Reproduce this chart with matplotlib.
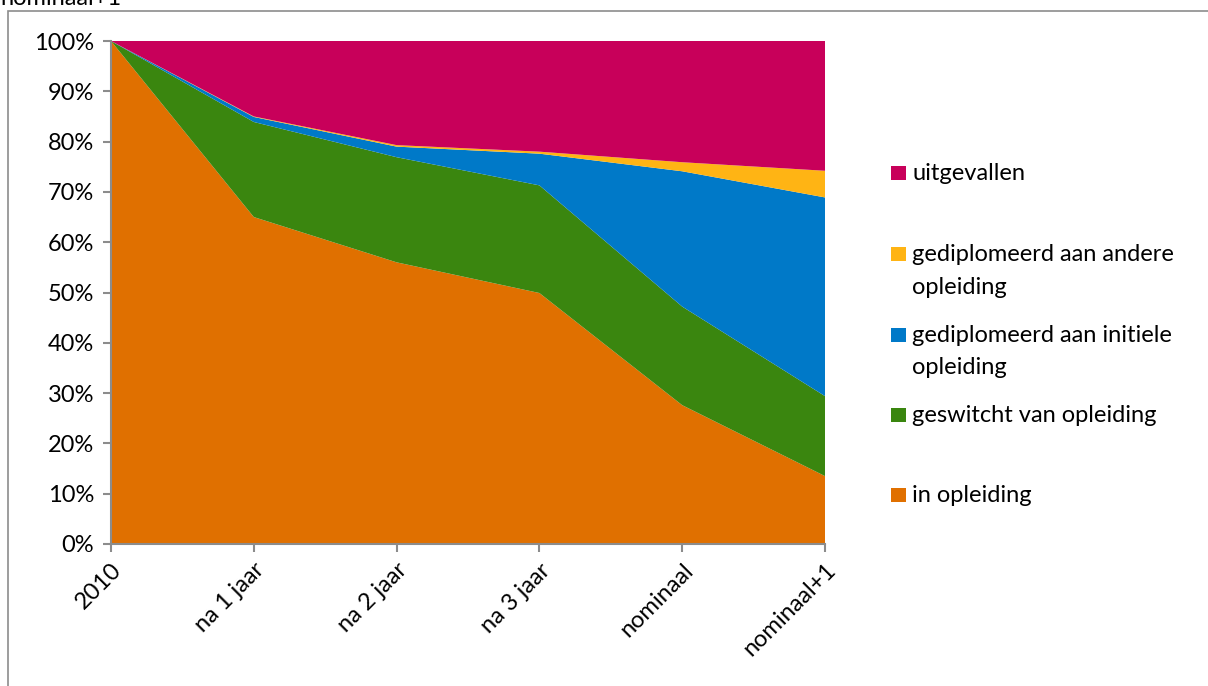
import matplotlib
matplotlib.use("Agg")
import matplotlib.pyplot as plt
import numpy as np
from matplotlib.patches import Rectangle

plt.rcParams['font.family'] = ['Lato', 'DejaVu Sans']

categories = ["2010", "na 1 jaar", "na 2 jaar", "na 3 jaar", "nominaal", "nominaal+1"]
in_opleiding = [100.0, 65.0, 56.0, 49.9, 27.6, 13.5]
geswitcht = [0.0, 18.9, 20.9, 21.4, 19.6, 15.9]
initiele = [0.0, 1.0, 2.1, 6.3, 26.9, 39.5]
andere = [0.0, 0.1, 0.3, 0.4, 1.8, 5.3]
uitgevallen = [100 - a - b - c - d for a, b, c, d in zip(in_opleiding, geswitcht, initiele, andere)]

series_labels = ["in opleiding", "geswitcht van opleiding", "gediplomeerd aan initiele\nopleiding",
                 "gediplomeerd aan andere\nopleiding", "uitgevallen"]
series_values = [in_opleiding, geswitcht, initiele, andere, uitgevallen]
colors = ["#E07000", "#3A860F", "#0079C8", "#FFB414", "#C8005A"]
yticks = [0, 10, 20, 30, 40, 50, 60, 70, 80, 90, 100]

FS = 17
W, H = 1208, 686
fig = plt.figure(figsize=(W / 100, H / 100), dpi=100)
ax = fig.add_axes([111 / W, 1 - 544 / H, (825 - 111) / W, (544 - 41) / H])

x = np.arange(len(categories))
ax.stackplot(x, *series_values, colors=colors, linewidth=0)
ax.set_xlim(0, len(categories) - 1)
ax.set_ylim(0, 100)
ax.set_yticks(yticks)
ax.set_yticklabels([f"{v}%" for v in yticks], fontsize=FS)
ax.set_xticks(x)
ax.set_xticklabels(categories, fontsize=FS, rotation=45, ha='right', rotation_mode='anchor')
for s in ['top', 'right']:
    ax.spines[s].set_visible(False)
for s in ['left', 'bottom']:
    ax.spines[s].set_color('#8c8c8c')
    ax.spines[s].set_linewidth(1.5)
ax.tick_params(axis='both', colors='#8c8c8c', length=6, width=1.5, labelcolor='black')
ax.tick_params(axis='y', pad=6)
ax.tick_params(axis='x', pad=5)

# outer chart frame
fig.patches.append(Rectangle((8 / W, -0.01), 1.02, 1 - 11 / H + 0.01, transform=fig.transFigure,
                             fill=False, edgecolor='#8c8c8c', linewidth=1.2))

fig.text(0.0, 1 - 5 / H, "nominaal+1", fontsize=FS, va='baseline', ha='left')

# legend (top to bottom in reverse series order)
first_line_y = [173, 254, 335, 415, 495]
for i, idx in enumerate(reversed(range(len(series_labels)))):
    yc = first_line_y[i]
    fig.patches.append(Rectangle((891 / W, 1 - (yc + 7) / H), 15 / W, 14 / H,
                                 transform=fig.transFigure, color=colors[idx], linewidth=0))
    parts = series_labels[idx].split("\n")
    fig.text(912 / W, 1 - yc / H, parts[0], fontsize=FS, va='center', ha='left')
    if len(parts) > 1:
        fig.text(912 / W, 1 - (yc + 33) / H, parts[1], fontsize=FS, va='center', ha='left')

fig.savefig("out.png", dpi=100)
